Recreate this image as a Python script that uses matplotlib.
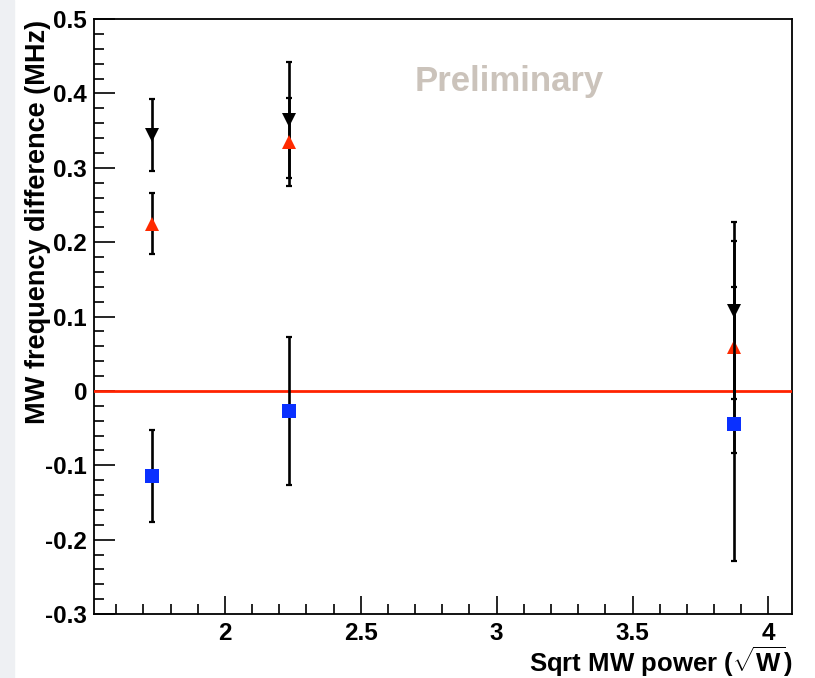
import matplotlib
matplotlib.use("Agg")
import matplotlib.pyplot as plt
from matplotlib.ticker import MultipleLocator
from matplotlib.patches import Rectangle

# sqrt of MW power (W^0.5)
x = [1.732, 2.236, 3.873]

# black down triangles
black_y = [0.344, 0.364, 0.108]
black_err = [0.048, 0.078, 0.119]
# red up triangles
red_y = [0.225, 0.335, 0.059]
red_err = [0.041, 0.059, 0.142]
# blue squares
blue_y = [-0.114, -0.027, -0.045]
blue_err = [0.062, 0.099, 0.184]

xtick_vals = [2, 2.5, 3, 3.5, 4]
xtick_labels = ["2", "2.5", "3", "3.5", "4"]
ytick_vals = [-0.3, -0.2, -0.1, 0, 0.1, 0.2, 0.3, 0.4, 0.5]
ytick_labels = ["-0.3", "-0.2", "-0.1", "0", "0.1", "0.2", "0.3", "0.4", "0.5"]

plt.rcParams["font.family"] = ["Liberation Sans", "DejaVu Sans"]
plt.rcParams["mathtext.fontset"] = "custom"
plt.rcParams["mathtext.rm"] = "Liberation Sans:bold"
plt.rcParams["mathtext.bf"] = "Liberation Sans:bold"

fig = plt.figure(figsize=(8.15, 6.78), dpi=100)
fig.patches.append(Rectangle((0, 0), 14 / 815, 1, transform=fig.transFigure,
                             color="#eef0f3", zorder=0))
ax = fig.add_axes([94 / 815, 64 / 678, 698 / 815, 595 / 678])

ax.axhline(0, color="#ff2200", lw=2, zorder=2.6)

series = [
    (black_y, black_err, "v", "black"),
    (red_y, red_err, "^", "#ff2a00"),
    (blue_y, blue_err, "s", "#0a30ff"),
]
z = 3
for ys, errs, mk, col in series:
    ax.errorbar(x, ys, yerr=errs, fmt="none", ecolor="black", elinewidth=1.9,
                capsize=2.5, capthick=1.6, zorder=z)
    ax.plot(x, ys, linestyle="none", marker=mk, color=col, markersize=10.5,
            markeredgewidth=0, zorder=z + 0.5)
    z += 1

ax.set_xlim(1.518, 4.087)
ax.set_ylim(-0.3, 0.5)
ax.xaxis.set_minor_locator(MultipleLocator(0.1))
ax.yaxis.set_minor_locator(MultipleLocator(0.02))
ax.set_xticks(xtick_vals)
ax.set_xticklabels(xtick_labels)
ax.set_yticks(ytick_vals)
ax.set_yticklabels(ytick_labels)

ax.tick_params(which="both", direction="in", top=False, right=False,
               labelsize=17.5, width=1.2)
ax.tick_params(axis="y", which="major", length=15, pad=5)
ax.tick_params(axis="y", which="minor", length=7.5)
ax.tick_params(axis="x", which="major", length=13, pad=6)
ax.tick_params(axis="x", which="minor", length=7)
for lab in ax.get_xticklabels() + ax.get_yticklabels():
    lab.set_fontweight("bold")
for sp in ax.spines.values():
    sp.set_linewidth(1.3)

fig.text(38 / 815, 1 - 20 / 678, "MW frequency difference (MHz)", rotation=90,
         ha="center", va="top", fontsize=19.5, fontweight="bold")
fig.text(792 / 815, 1 - 662 / 678, r"Sqrt MW power ($\sqrt{\mathbf{W}}$)",
         ha="right", va="center", fontsize=18.5, fontweight="bold")
fig.text(509 / 815, 1 - 82 / 678, "Preliminary",
         ha="center", va="center", fontsize=25, fontweight="bold", color="#cbc3bb")

fig.savefig("out.png", dpi=100)
